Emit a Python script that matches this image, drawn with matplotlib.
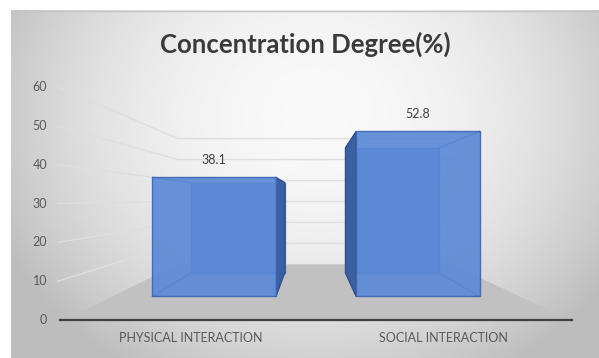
import matplotlib.pyplot as plt
import numpy as np
from matplotlib.patches import Polygon

categories = ["PHYSICAL INTERACTION", "SOCIAL INTERACTION"]
values = [38.1, 52.8]
value_labels = ["38.1", "52.8"]
y_ticks = [0, 10, 20, 30, 40, 50, 60]
title = "Concentration Degree(%)"

plt.rcParams['font.family'] = ['Lato', 'DejaVu Sans']

W, H = 599, 358
fig = plt.figure(figsize=(W / 100, H / 100), dpi=100)
ax = fig.add_axes([0, 0, 1, 1])
ax.set_xlim(0, W)
ax.set_ylim(H, 0)
ax.axis('off')

# chart area background, light in the middle and grey at the edges
bx0, by0, bx1, by1 = 11, 10, 599, 358
yy, xx = np.mgrid[0:1:200j, 0:1:300j]
r = np.sqrt(((xx - 0.52) / 0.55) ** 2 + ((yy - 0.3) / 0.8) ** 2)
shade = np.clip(0.975 - 0.2 * r ** 2, 0.74, 0.98)
ax.imshow(shade, cmap='gray', vmin=0, vmax=1, extent=(bx0, bx1, by1, by0),
          aspect='auto', zorder=0, interpolation='bilinear')
ax.plot([bx0, bx1], [by0 + 0.5, by0 + 0.5], color='#c4c4c4', lw=1, zorder=1)

# simple perspective: front plane and a vanishing point
VX, VY = 312, 199
Y0, PX = 320, 3.88
XL, XR = 64, 570
S_WALL = 0.54
S_FRONT, S_BACK = 0.805, 0.61


def proj(X, v, s):
    Y = Y0 - v * PX
    return VX + (X - VX) * s, VY + (Y - VY) * s


# floor
floor = [proj(XL, 0, 1), proj(XR, 0, 1), proj(XR, 0, S_WALL), proj(XL, 0, S_WALL)]
ax.add_patch(Polygon(floor, closed=True, facecolor='#c1c1c1', edgecolor='none', zorder=2))

# side wall and back wall gridlines
for v in y_ticks[1:]:
    pts = [proj(XL - 6, v, 1), proj(XL, v, S_WALL), proj(XR, v, S_WALL)]
    ax.plot([p[0] for p in pts], [p[1] for p in pts], color='#dedede', lw=1, zorder=2)

# front axis line
ax.plot([XL - 4, XR + 2], [Y0, Y0], color='#3f3f3f', lw=1.6, zorder=3)

for v in y_ticks:
    ax.text(47, Y0 - v * PX, str(v), ha='right', va='center', fontsize=9, color='#595959')

n = len(categories)
step = (XR - XL) / n
half = step * 0.303
for i, (cat, v, lab) in enumerate(zip(categories, values, value_labels)):
    xc = XL + step * (i + 0.5)
    xl, xr = xc - half, xc + half
    front = [proj(xl, 0, S_FRONT), proj(xr, 0, S_FRONT), proj(xr, v, S_FRONT), proj(xl, v, S_FRONT)]
    back = [proj(xl, 0, S_BACK), proj(xr, 0, S_BACK), proj(xr, v, S_BACK), proj(xl, v, S_BACK)]
    xs = xr if xc < VX else xl
    side = [proj(xs, 0, S_FRONT), proj(xs, v, S_FRONT), proj(xs, v, S_BACK), proj(xs, 0, S_BACK)]

    ax.add_patch(Polygon(back, closed=True, facecolor='#5b89d4', edgecolor='#3f68b4',
                         lw=0.9, zorder=4))
    # hidden edges joining front and back corners
    for k in range(4):
        ax.plot([front[k][0], back[k][0]], [front[k][1], back[k][1]],
                color='#3f68b4', lw=0.9, zorder=4)
    ax.add_patch(Polygon(side, closed=True, facecolor='#3c5f9f', edgecolor='#2f4f8c',
                         lw=0.8, zorder=5))
    ax.add_patch(Polygon(front, closed=True, facecolor='#5b89d6', edgecolor='#3e66b0',
                         lw=1.0, alpha=0.92, zorder=6))

    fx, fy = proj(xc, v, S_FRONT)
    ax.text(fx, fy - 17, lab, ha='center', va='center', fontsize=9, color='#404040', zorder=7)
    ax.text(xc, 338, cat, ha='center', va='center', fontsize=9, color='#595959')

ax.text(305, 44, title, ha='center', va='center', fontsize=18.5, fontweight='bold', color='#3a3a3a')

fig.savefig('out.png', dpi=100)
